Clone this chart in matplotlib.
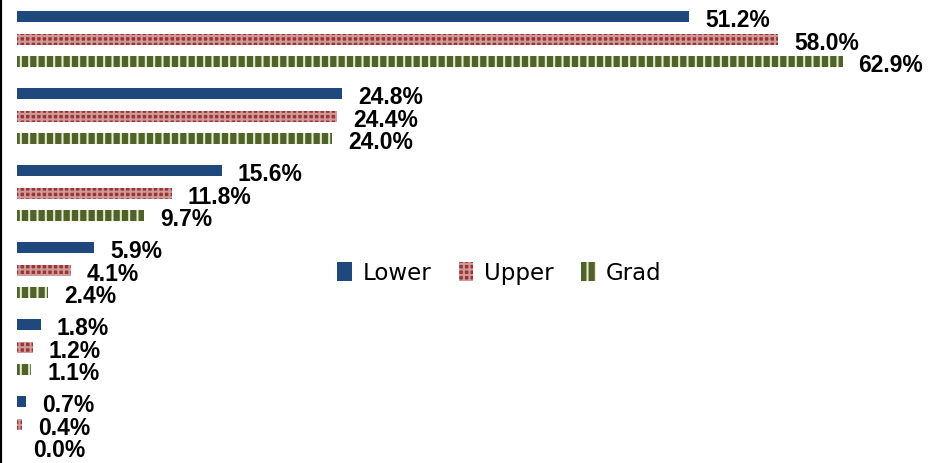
import matplotlib.pyplot as plt
import numpy as np

# Six unlabeled categories, three series each (percent).
categories = ["c1", "c2", "c3", "c4", "c5", "c6"]
lower = [51.2, 24.8, 15.6, 5.9, 1.8, 0.7]
upper = [58.0, 24.4, 11.8, 4.1, 1.2, 0.4]
grad = [62.9, 24.0, 9.7, 2.4, 1.1, 0.0]

series = [
    ("Lower", lower, "#1F497D", None, "#1F497D"),
    ("Upper", upper, "#9B3534", "+++", "#CF9A9A"),
    ("Grad", grad, "#4F6228", "||", "#E4EAD3"),
]

plt.rcParams["hatch.linewidth"] = 1.5

fig = plt.figure(figsize=(9.37, 4.64), dpi=100)
ax = fig.add_axes([0, 0, 1, 1])

px_per_pct = 13.125
ax.set_xlim(-17 / px_per_pct, (937 - 17) / px_per_pct)
ax.set_ylim((464 - 40) / 77, -40 / 77)

y = np.arange(len(categories))
offset = 22.5 / 77
height = 11 / 77

for k, (name, vals, color, hatch, hcolor) in enumerate(series):
    pos = y + (k - 1) * offset
    bars = ax.barh(pos, vals, height=height, color=color, hatch=hatch,
                   edgecolor=hcolor, linewidth=0, label=name)
    for b, v in zip(bars, vals):
        ax.annotate(f"{v:.1f}%", (v, b.get_y() + b.get_height() / 2),
                    xytext=(11.5, -2.5), textcoords="offset points",
                    ha="left", va="center", fontsize=16.5,
                    fontweight="bold", family="Liberation Sans")

for s in ["top", "right", "bottom"]:
    ax.spines[s].set_visible(False)
ax.spines["left"].set_linewidth(3)
ax.spines["left"].set_color("black")
ax.set_xticks([])
ax.set_yticks([])

ax.legend(loc="center", bbox_to_anchor=(0.533, 0.41), ncol=3, frameon=False,
          fontsize=16.5, handlelength=0.65, handleheight=0.9,
          handletextpad=0.45, columnspacing=1.2)

fig.savefig("out.png", dpi=100)
